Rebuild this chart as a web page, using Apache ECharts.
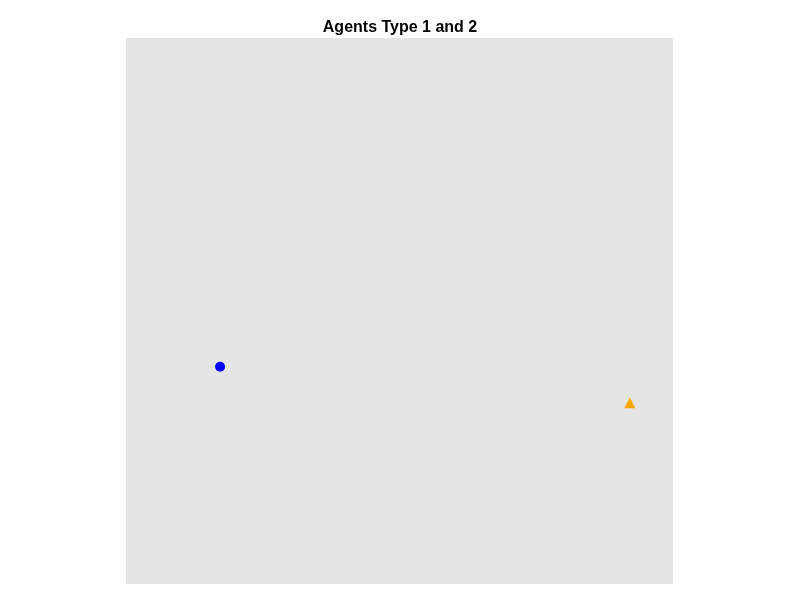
<!DOCTYPE html>
<html><head><meta charset="utf-8">
<script src="https://cdn.jsdelivr.net/npm/echarts@6/dist/echarts.min.js"></script>
<style>html,body{margin:0;padding:0;background:#fff}#c{width:800px;height:600px}</style>
</head><body><div id="c"></div>
<script>
var titleText = 'Agents Type 1 and 2';
var type1 = [[0.172, 0.398]];
var type2 = [[0.921, 0.332]];
var chart = echarts.init(document.getElementById('c'));
chart.setOption({
  animation: false,
  title: { text: titleText, left: 'center', top: 15, textStyle: { fontFamily: 'Liberation Sans, Arial, sans-serif', fontSize: 16, fontWeight: 'bold', color: '#000' } },
  grid: { left: 126, right: 127, top: 38, bottom: 16, show: true, backgroundColor: '#e5e5e5', borderWidth: 0 },
  xAxis: { type: 'value', min: 0, max: 1, show: false },
  yAxis: { type: 'value', min: 0, max: 1, show: false },
  series: [
    { name: 'Type 1', type: 'scatter', data: type1, symbol: 'circle', symbolSize: 10, itemStyle: { color: '#0000ff', opacity: 1 } },
    { name: 'Type 2', type: 'scatter', data: type2, symbol: 'triangle', symbolSize: 11, itemStyle: { color: '#ffa500', opacity: 1 } }
  ]
});
</script></body></html>
